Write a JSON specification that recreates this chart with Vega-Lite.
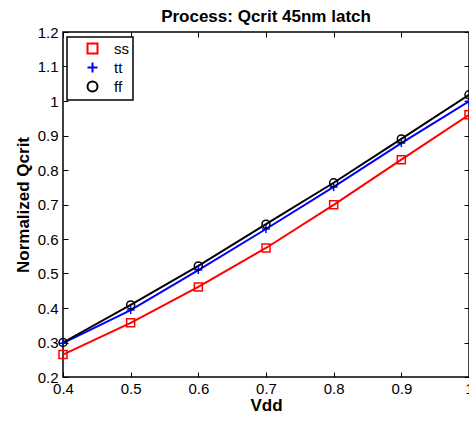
{
  "$schema": "https://vega.github.io/schema/vega-lite/v6.json",
  "width": 406,
  "height": 345,
  "autosize": {"type": "none"},
  "padding": {"left": 63, "top": 32, "right": 0, "bottom": 44},
  "background": "white",
  "title": {"text": "Process: Qcrit 45nm latch", "fontSize": 17, "fontWeight": "bold", "font": "Liberation Sans", "color": "black", "anchor": "middle", "offset": -1},
  "data": {"values": [
    {"vdd": 0.4, "q": 0.265, "proc": "ss"},
    {"vdd": 0.5, "q": 0.357, "proc": "ss"},
    {"vdd": 0.6, "q": 0.461, "proc": "ss"},
    {"vdd": 0.7, "q": 0.574, "proc": "ss"},
    {"vdd": 0.8, "q": 0.699, "proc": "ss"},
    {"vdd": 0.9, "q": 0.830, "proc": "ss"},
    {"vdd": 1.0, "q": 0.960, "proc": "ss"},
    {"vdd": 0.4, "q": 0.298, "proc": "tt"},
    {"vdd": 0.5, "q": 0.394, "proc": "tt"},
    {"vdd": 0.6, "q": 0.510, "proc": "tt"},
    {"vdd": 0.7, "q": 0.629, "proc": "tt"},
    {"vdd": 0.8, "q": 0.751, "proc": "tt"},
    {"vdd": 0.9, "q": 0.878, "proc": "tt"},
    {"vdd": 1.0, "q": 0.999, "proc": "tt"},
    {"vdd": 0.4, "q": 0.300, "proc": "ff"},
    {"vdd": 0.5, "q": 0.409, "proc": "ff"},
    {"vdd": 0.6, "q": 0.522, "proc": "ff"},
    {"vdd": 0.7, "q": 0.643, "proc": "ff"},
    {"vdd": 0.8, "q": 0.763, "proc": "ff"},
    {"vdd": 0.9, "q": 0.890, "proc": "ff"},
    {"vdd": 1.0, "q": 1.018, "proc": "ff"}
  ]},
  "layer": [
    {
      "mark": {"type": "line", "strokeWidth": 2, "clip": false},
      "encoding": {
        "x": {"field": "vdd", "type": "quantitative", "scale": {"domain": [0.4, 1.0], "nice": false, "zero": false},
              "axis": {"orient": "bottom", "values": [0.4, 0.5, 0.6, 0.7, 0.8, 0.9, 1.0], "format": ".1~f", "title": "Vdd", "labelPadding": 9, "titlePadding": 1}},
        "y": {"field": "q", "type": "quantitative", "scale": {"domain": [0.2, 1.2], "nice": false, "zero": false},
              "axis": {"orient": "left", "values": [0.2, 0.3, 0.4, 0.5, 0.6, 0.7, 0.8, 0.9, 1.0, 1.1, 1.2], "format": ".1~f", "title": "Normalized Qcrit", "labelPadding": 10, "titlePadding": 5}},
        "color": {"field": "proc", "type": "nominal", "scale": {"domain": ["ss", "tt", "ff"], "range": ["#ff0000", "#0000ff", "#000000"]}},
        "order": {"field": "vdd"}
      }
    },
    {
      "mark": {"type": "point", "filled": false, "strokeWidth": 1.5, "size": 64, "opacity": 1, "clip": false},
      "encoding": {
        "x": {"field": "vdd", "type": "quantitative",
              "axis": {"orient": "top", "values": [0.4, 0.5, 0.6, 0.7, 0.8, 0.9, 1.0], "labels": false, "title": null}},
        "y": {"field": "q", "type": "quantitative",
              "axis": {"orient": "right", "values": [0.2, 0.3, 0.4, 0.5, 0.6, 0.7, 0.8, 0.9, 1.0, 1.1, 1.2], "labels": false, "title": null}},
        "color": {"field": "proc", "type": "nominal"},
        "shape": {"field": "proc", "type": "nominal", "scale": {"domain": ["ss", "tt", "ff"], "range": ["M-1,-1H1V1H-1Z", "M-1,0H1M0,-1V1", "circle"]}}
      }
    }
  ],
  "resolve": {"axis": {"x": "independent", "y": "independent"}},
  "config": {
    "font": "Liberation Sans",
    "view": {"stroke": "black", "strokeWidth": 1.5},
    "axis": {"domain": false, "grid": false, "ticks": true, "tickColor": "black", "tickSize": -5, "tickWidth": 1, "labelFontSize": 15, "labelColor": "black", "labelFont": "Liberation Sans", "titleFont": "Liberation Sans", "titleFontSize": 17, "titleFontWeight": "bold", "titleColor": "black", "labelFlush": false},
    "legend": {"orient": "none", "legendX": 4, "legendY": 5, "title": null, "strokeColor": "black", "strokeWidth": 1.5, "fillColor": "white", "padding": 4, "symbolSize": 100, "symbolStrokeWidth": 2, "symbolOffset": 14, "labelOffset": 14, "labelFontSize": 15, "labelColor": "black", "labelFont": "Liberation Sans", "rowPadding": 0}
  }
}
